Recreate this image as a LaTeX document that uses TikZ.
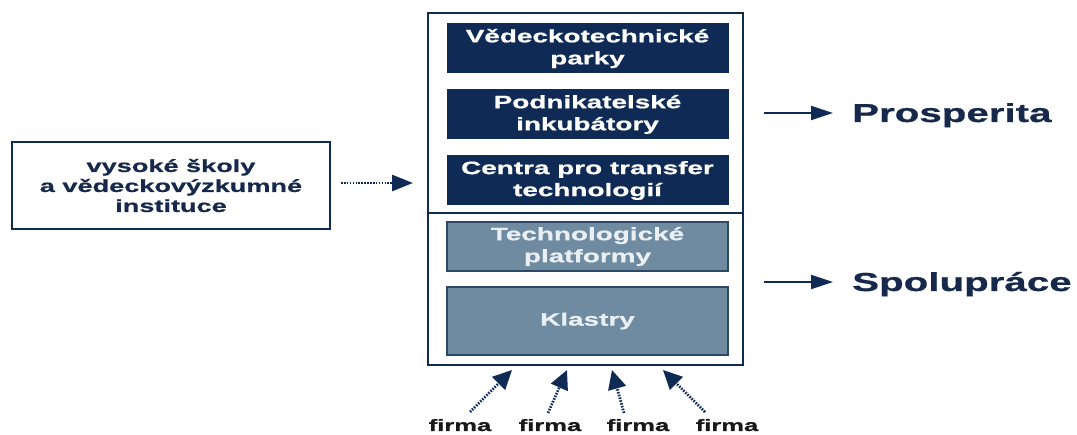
\documentclass[tikz,border=0pt]{standalone}
\usepackage{fontspec}
\setmainfont{Liberation Sans}
\newfontfamily\wf[FakeStretch=1.55,FakeBold=0.8]{Liberation Sans}
\usetikzlibrary{arrows.meta,calc}
\definecolor{navy}{HTML}{0F2B55}
\definecolor{slate}{HTML}{6F8BA1}
\definecolor{slateedge}{HTML}{2D4863}
\definecolor{paletext}{HTML}{EAEFF3}
\definecolor{ink}{HTML}{16294B}
\begin{document}
\begin{tikzpicture}[x=1pt,y=-1pt,
  boxtext/.style={font=\wf\bfseries\fontsize{18}{22}\selectfont, align=center, inner sep=0pt},
  darkbox/.style={boxtext, fill=navy, draw=navy, line width=1pt, text=white, minimum width=281pt, minimum height=49pt},
  slatebox/.style={boxtext, fill=slate, draw=slateedge, line width=2pt, text=paletext, minimum width=281pt, minimum height=49pt},
  bigtext/.style={font=\wf\bfseries\fontsize{26}{30}\selectfont, text=ink, inner sep=0pt, anchor=base west},
  firmtext/.style={font=\wf\bfseries\fontsize{16.5}{20}\selectfont, text=black!90, inner sep=0pt, anchor=base},
  arr/.style={draw=navy, line width=2pt, -{Triangle[length=22pt,width=14pt]}},
  darr/.style={draw=navy, line width=2.7pt, dash pattern=on 1.6pt off 1.3pt, -{Triangle[length=21pt,width=16pt]}},
  farr/.style={draw=navy, line width=2.7pt, dash pattern=on 1.6pt off 1.3pt, -{Triangle[length=19pt,width=18pt]}}]
\useasboundingbox (0,0) rectangle (1077,435);
% outer frame
\node[draw=navy, line width=2.4pt, minimum width=315pt, minimum height=352pt, inner sep=0pt] (outer) at (585.5,189) {};
\draw[draw=navy, line width=1.5pt] (outer.west |- 0,213) coordinate (dl) -- (outer.east |- dl);
% inner boxes
\node[darkbox] (b1) at (587.5,48.5) {Vědeckotechnické\\parky};
\node[darkbox] (b2) at (587.5,114.5) {Podnikatelské\\inkubátory};
\node[darkbox] (b3) at (587.5,180.5) {Centra pro transfer\\technologií};
\node[slatebox] (b4) at (587.5,246.5) {Technologické\\platformy};
\node[slatebox, minimum height=68pt] (b5) at (587.5,321) {Klastry};
% left box
\node[draw=navy, line width=2pt, minimum width=318pt, minimum height=87pt, inner sep=0pt,
      font=\wf\bfseries\fontsize{17.5}{20}\selectfont, text=ink, align=center] (left) at (171,185.5)
      {vysoké školy\\a vědeckovýzkumné\\instituce};
\coordinate (la) at (413,183);
\draw[darr, shorten <=10pt] (left.east |- la) -- (la);
% right labels
\node[bigtext] (pros) at (852,122) {Prosperita};
\node[bigtext] (spol) at (852,291) {Spolupráce};
\coordinate (pa) at (833,113);
\coordinate (sa) at (833,282);
\draw[arr, shorten <=20pt] (outer.east |- pa) -- (pa);
\draw[arr, shorten <=20pt] (outer.east |- sa) -- (sa);
% firms
\node[firmtext] (f1) at (460,431) {firma};
\node[firmtext] (f2) at (550,431) {firma};
\node[firmtext] (f3) at (638,431) {firma};
\node[firmtext] (f4) at (727,431) {firma};
\coordinate (s1) at (470,412); \coordinate (t1) at (512,370);
\coordinate (s2) at (548,413); \coordinate (t2) at (567,370);
\coordinate (s3) at (624,413); \coordinate (t3) at (612,370);
\coordinate (s4) at (705,412); \coordinate (t4) at (663,370);
\draw[farr] (s1) -- (t1);
\draw[farr] (s2) -- (t2);
\draw[farr] (s3) -- (t3);
\draw[farr] (s4) -- (t4);
\end{tikzpicture}
\end{document}
